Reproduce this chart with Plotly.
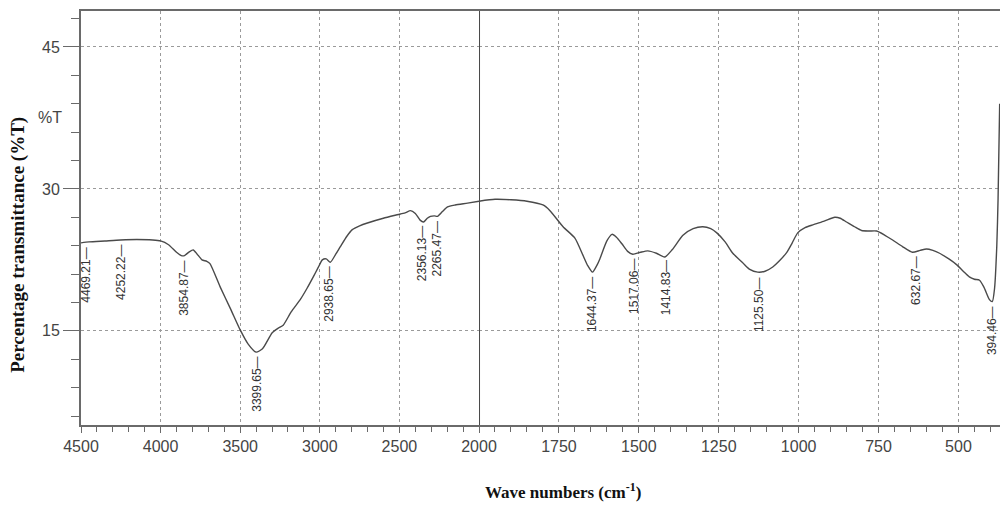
import numpy as np
import plotly.graph_objects as go

# ---- data ----
wavenumber = [4500, 4450, 4350, 4252, 4150, 4050, 4000, 3950, 3900, 3870, 3850, 3820, 3795,
              3770, 3740, 3710, 3690, 3626, 3560, 3500, 3450, 3400, 3360, 3299, 3260, 3230,
              3180, 3123, 3080, 3041, 3010, 2984, 2960, 2934, 2900, 2871, 2830, 2796, 2750,
              2701, 2601, 2494, 2460, 2431, 2400, 2370, 2349, 2325, 2305, 2280, 2261, 2230,
              2198, 2150, 2072, 2000,
              1950, 1900, 1850, 1800, 1778, 1737, 1700, 1675, 1660, 1645, 1630, 1622, 1600,
              1584, 1570, 1553, 1535, 1519, 1495, 1472, 1445, 1419, 1395, 1362, 1330, 1300,
              1275, 1256, 1230, 1206, 1175, 1153, 1128, 1105, 1081, 1060, 1037, 1020, 1003,
              980, 956, 920, 887, 870, 850, 825, 803, 780, 756, 730, 706, 675, 644, 620, 600,
              580, 559, 530, 506, 485, 466, 450, 434, 420, 403, 394, 387, 380, 376, 371]
transmittance = [24.3, 24.4, 24.5, 24.6, 24.65, 24.6, 24.5, 24.1, 23.3, 22.95, 22.95, 23.35, 23.55,
                 23.1, 22.5, 22.35, 22.1, 19.65, 17.3, 15.1, 13.6, 12.75, 13.1, 14.8, 15.3, 15.6,
                 17.0, 18.3, 19.5, 20.7, 21.7, 22.5, 22.6, 22.25, 23.1, 23.9, 25.0, 25.7, 26.1,
                 26.4, 26.9, 27.35, 27.5, 27.7, 27.4, 26.7, 26.5, 26.9, 27.1, 27.15, 27.1, 27.6,
                 28.1, 28.3, 28.5, 28.7,
                 28.9, 28.85, 28.7, 28.3, 27.7, 26.0, 24.8, 23.0, 21.9, 21.2, 22.0, 22.6, 24.5,
                 25.2, 24.9, 24.2, 23.4, 23.1, 23.3, 23.45, 23.2, 22.8, 23.6, 25.1, 25.8, 26.0,
                 25.8, 25.35, 24.4, 23.2, 22.2, 21.5, 21.2, 21.3, 21.75, 22.4, 23.3, 24.3, 25.35,
                 25.9, 26.2, 26.6, 27.0, 26.9, 26.5, 26.0, 25.6, 25.55, 25.55, 25.1, 24.6, 23.9, 23.3, 23.5, 23.65,
                 23.5, 23.2, 22.6, 22.0, 21.3, 20.7, 20.45, 20.35, 19.6, 18.3, 18.1, 19.5, 24.0, 29.0, 39.0]

peak_labels = [4469.21, 4252.22, 3854.87, 3399.65, 2938.65, 2356.13, 2265.47,
               1644.37, 1517.06, 1414.83, 1125.50, 632.67, 394.46]

x_left_ticks = [4500, 4000, 3500, 3000, 2500, 2000]
x_right_ticks = [1750, 1500, 1250, 1000, 750, 500]
y_ticks = [15, 30, 45]

# ---- figure ----
wn = np.array(wavenumber, dtype=float)
tr = np.array(transmittance, dtype=float)
left = wn >= 2000
right = wn <= 2000

split = 0.4331
line_col = "#4a4a4a"
axis_col = "#6a6a6a"
grid_col = "#9a9a9a"
tick_font = dict(family="Liberation Sans, Arial", size=16, color="#444444")
title_font = dict(family="Liberation Serif, Times New Roman", color="#111111")

fig = go.Figure()
fig.add_trace(go.Scatter(x=wn[left], y=tr[left], xaxis="x", yaxis="y", mode="lines",
                         line=dict(color=line_col, width=1.4, shape="spline", smoothing=0.6),
                         showlegend=False, hoverinfo="skip"))
fig.add_trace(go.Scatter(x=wn[right], y=tr[right], xaxis="x2", yaxis="y", mode="lines",
                         line=dict(color=line_col, width=1.4, shape="spline", smoothing=0.6),
                         showlegend=False, hoverinfo="skip"))

order = np.argsort(wn)
for p in peak_labels:
    yv = float(np.interp(p, wn[order], tr[order]))
    fig.add_annotation(x=p, y=yv, xref="x" if p > 2000 else "x2", yref="y",
                       text=f"{p:.2f}\u2014", textangle=-90, showarrow=False,
                       xanchor="center", yanchor="top", yshift=-3,
                       font=dict(family="Liberation Sans, Arial", size=12, color="#333333"))

common_x = dict(showline=True, linecolor=axis_col, linewidth=2, mirror=True,
                ticks="outside", ticklen=6, tickwidth=1, tickcolor=axis_col,
                showgrid=True, gridcolor=grid_col, griddash="dot", gridwidth=1,
                zeroline=False, tickfont=tick_font, anchor="y", automargin=False)

fig.update_layout(
    width=1000, height=508, autosize=False,
    margin=dict(l=81, r=0, t=11, b=83, autoexpand=False),
    paper_bgcolor="white", plot_bgcolor="white",
    xaxis=dict(domain=[0, split], range=[4500, 2000], tickmode="array", tickvals=x_left_ticks,
               ticktext=[str(v) for v in x_left_ticks],
               minor=dict(dtick=100, tick0=0, ticks="outside", ticklen=5, tickcolor=axis_col, showgrid=False),
               **common_x),
    xaxis2=dict(domain=[split, 1], range=[2000, 370], tickmode="array", tickvals=x_right_ticks,
                ticktext=[str(v) for v in x_right_ticks],
                minor=dict(dtick=50, tick0=0, ticks="outside", ticklen=5, tickcolor=axis_col, showgrid=False),
                **common_x),
    yaxis=dict(domain=[0, 1], range=[5.05, 48.8], tickmode="array", tickvals=y_ticks,
               ticktext=[str(v) for v in y_ticks],
               showline=True, linecolor=axis_col, linewidth=2, mirror=False,
               ticks="outside", ticklen=16, tickwidth=1, tickcolor=axis_col,
               minor=dict(dtick=3, tick0=0, ticks="outside", ticklen=8, tickcolor=axis_col, showgrid=False),
               showgrid=True, gridcolor=grid_col, griddash="dot", gridwidth=1,
               zeroline=False, tickfont=tick_font, anchor="x", automargin=False),
)

# solid divider at 2000 cm-1
fig.add_shape(type="line", xref="x2", yref="paper", x0=2000, x1=2000, y0=0, y1=1,
              line=dict(color="#4a4a4a", width=2))

# "%T" label
fig.add_annotation(xref="paper", x=-0.0337, yref="y", y=37.5, text="%T", showarrow=False,
                   xanchor="center", yanchor="middle", font=tick_font)

# axis titles
fig.add_annotation(xref="paper", yref="paper", x=0.5245, y=-0.159, xanchor="center", yanchor="middle",
                   text="<b>Wave numbers (cm<sup>-1</sup>)</b>", showarrow=False,
                   font=dict(size=17, **title_font))
fig.add_annotation(xref="paper", yref="paper", x=-0.0686, y=0.435, xanchor="center", yanchor="middle",
                   text="<b>Percentage transmittance (%T)</b>", textangle=-90, showarrow=False,
                   font=dict(size=19, **title_font))

fig.write_html("out.html", config={"responsive": False, "displayModeBar": False},
               post_script="document.body.style.margin='0';"
                           "document.documentElement.style.overflow='hidden';"
                           "document.body.style.overflow='hidden';")
